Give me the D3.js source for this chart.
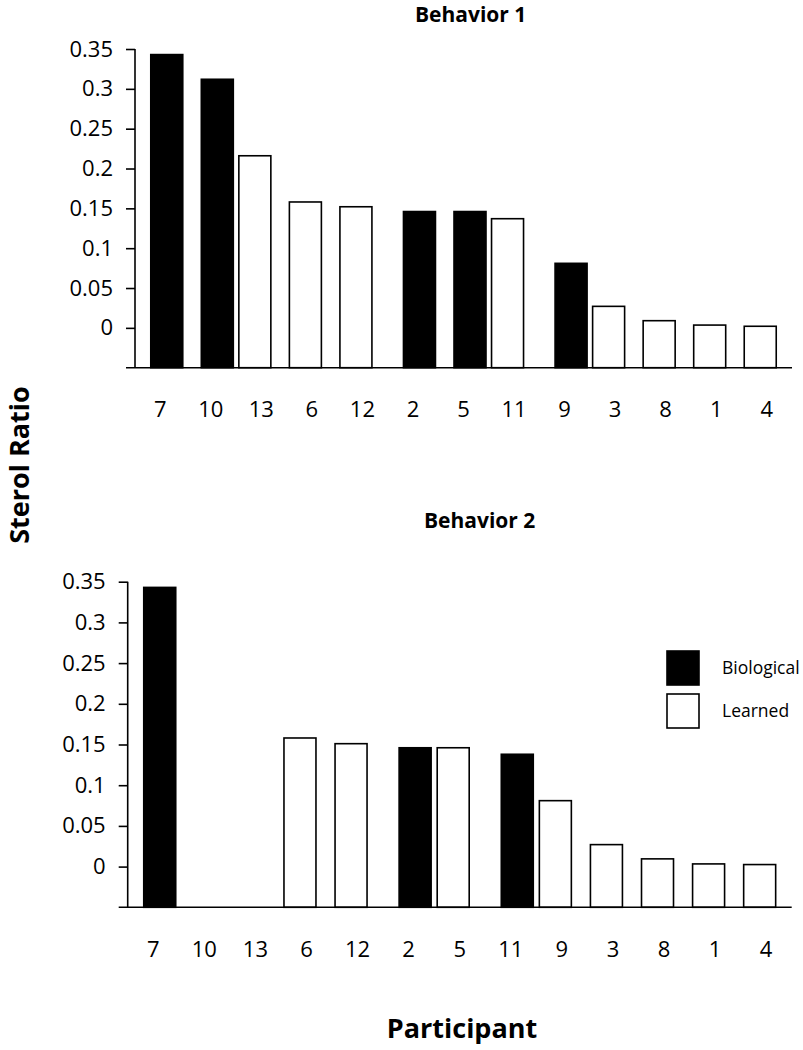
<!DOCTYPE html>
<html>
<head>
<meta charset="utf-8">
<script src="https://cdn.jsdelivr.net/npm/d3@7"></script>
<style>
  html, body { margin: 0; padding: 0; background: #fff; }
  svg { display: block; font-family: "Open Sans", "Noto Sans", sans-serif; }
</style>
</head>
<body>
<svg id="chart" width="803" height="1050"></svg>
<script>
// ---------- DATA ----------
const categories = ["7", "10", "13", "6", "12", "2", "5", "11", "9", "3", "8", "1", "4"];
const behavior1Values = [0.343, 0.312, 0.216, 0.158, 0.152, 0.146, 0.146, 0.137, 0.081, 0.027, 0.009, 0.0035, 0.002];
const behavior1Types = ["Biological", "Biological", "Learned", "Learned", "Learned", "Biological", "Biological", "Learned", "Biological", "Learned", "Learned", "Learned", "Learned"];
const behavior2Values = [0.343, null, null, 0.158, 0.151, 0.146, 0.146, 0.138, 0.081, 0.027, 0.0095, 0.0033, 0.0025];
const behavior2Types = ["Biological", null, null, "Learned", "Learned", "Biological", "Learned", "Biological", "Learned", "Learned", "Learned", "Learned", "Learned"];
const yTicks = [0, 0.05, 0.1, 0.15, 0.2, 0.25, 0.3, 0.35];
const yDomain = [-0.05, 0.35];
const seriesNames = ["Biological", "Learned"];
const titles = ["Behavior 1", "Behavior 2"];

// ---------- STYLE / LAYOUT ----------
const fillColor = { Biological: "#000", Learned: "#fff" };
const seriesOffset = { Biological: 6.5, Learned: -6.5 };
const barWidth = 32;
const panels = [
  { title: titles[0], values: behavior1Values, types: behavior1Types,
    left: 135, right: 792, top: 49, bottom: 367.7, titleX: 415, titleY: 22 },
  { title: titles[1], values: behavior2Values, types: behavior2Types,
    left: 127.7, right: 791.7, top: 581.7, bottom: 907.3, titleX: 424, titleY: 528 }
];

const svg = d3.select("#chart");

panels.forEach(p => {
  const g = svg.append("g");
  const x = d3.scaleBand().domain(categories).range([p.left, p.right]);
  const y = d3.scaleLinear().domain(yDomain).range([p.bottom, p.top]);

  // title
  g.append("text")
    .attr("x", p.titleX).attr("y", p.titleY)
    .attr("font-size", 21).attr("font-weight", "bold")
    .attr("fill", "#000")
    .text(p.title);

  // bars
  const data = categories.map((c, i) => ({ c, v: p.values[i], t: p.types[i] }))
    .filter(d => d.v != null && d.t != null);
  g.selectAll("rect.bar").data(data).join("rect")
    .attr("class", "bar")
    .attr("x", d => x(d.c) + x.bandwidth() / 2 + seriesOffset[d.t] - barWidth / 2)
    .attr("width", barWidth)
    .attr("y", d => y(d.v))
    .attr("height", d => y(yDomain[0]) - y(d.v))
    .attr("fill", d => fillColor[d.t])
    .attr("stroke", "#000")
    .attr("stroke-width", 1.6);

  // y axis
  const yAxis = d3.axisLeft(y).tickValues(yTicks).tickSize(9).tickPadding(13)
    .tickFormat(d => String(+d.toFixed(2)));
  const ya = g.append("g").attr("transform", `translate(${p.left},0)`).call(yAxis);
  ya.select(".domain").attr("d", `M0,${p.top}V${p.bottom}`).attr("stroke-width", 1.6);
  ya.selectAll(".tick line").attr("stroke-width", 1.6);
  ya.selectAll(".tick text").attr("font-size", 22).attr("fill", "#000")
    .attr("font-family", "'Open Sans', sans-serif");

  // x axis (baseline)
  const xAxis = d3.axisBottom(x).tickSize(0).tickPadding(34);
  const xa = g.append("g").attr("transform", `translate(0,${p.bottom})`).call(xAxis);
  xa.select(".domain").attr("d", `M${p.left - 9},0H${p.right}`).attr("stroke-width", 1.6);
  xa.selectAll(".tick text").attr("font-size", 22).attr("fill", "#000")
    .attr("font-family", "'Open Sans', sans-serif");
});

// axis titles
svg.append("text")
  .attr("transform", "translate(29,465) rotate(-90)")
  .attr("text-anchor", "middle")
  .attr("font-size", 27).attr("font-weight", "bold").attr("fill", "#000")
  .text("Sterol Ratio");

svg.append("text")
  .attr("x", 462).attr("y", 1038)
  .attr("text-anchor", "middle")
  .attr("font-size", 27).attr("font-weight", "bold").attr("fill", "#000")
  .text("Participant");

// legend
const legend = svg.append("g").attr("transform", "translate(667,651)");
seriesNames.forEach((s, i) => {
  const row = legend.append("g").attr("transform", `translate(0,${i * 43})`);
  row.append("rect")
    .attr("width", 32).attr("height", 34)
    .attr("fill", fillColor[s]).attr("stroke", "#000").attr("stroke-width", 1.6);
  row.append("text")
    .attr("x", 55).attr("y", 17).attr("dy", "0.35em")
    .attr("font-size", 17.5).attr("fill", "#000")
    .text(s);
});
</script>
</body>
</html>
